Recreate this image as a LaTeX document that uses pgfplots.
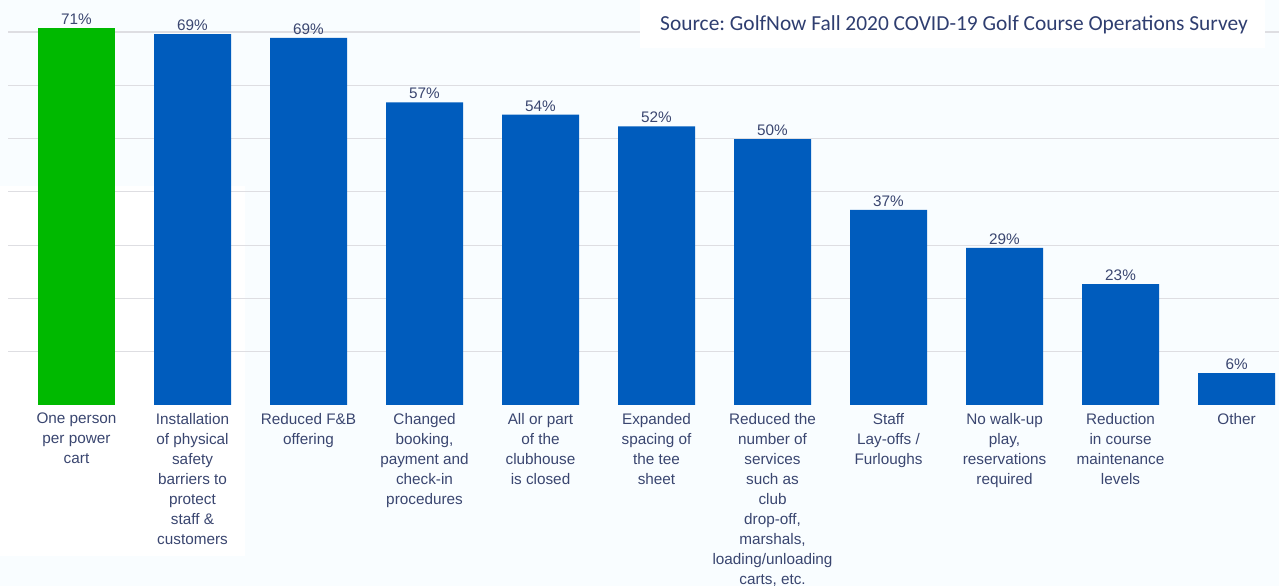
\documentclass[border=0pt]{standalone}
\usepackage{pgfplots}
\pgfplotsset{compat=1.18}
\usepackage{fontspec}
\setmainfont{Liberation Sans}
\newfontfamily\calibri{Carlito}
\definecolor{bargreen}{RGB}{0,185,0}
\definecolor{barblue}{RGB}{0,92,189}
\definecolor{labcol}{RGB}{58,70,112}
\definecolor{srccol}{RGB}{47,62,112}
\definecolor{gridcol}{RGB}{222,222,226}
\definecolor{bgcol}{RGB}{249,253,255}
\begin{document}
\frenchspacing
\begin{tikzpicture}[x=1bp,y=1bp]
\useasboundingbox (0,0) rectangle (1279,586);
\fill[bgcol] (0,0) rectangle (1279,586);
\fill[white] (0,30) rectangle (245,400);
\begin{axis}[
  at={(8bp,181bp)}, anchor=south west,
  scale only axis, width=1271bp, height=405bp,
  xmin=-0.5905, xmax=10.366, ymin=0, ymax=76,
  axis line style={draw=none},
  ytick={10,20,...,70}, ymajorgrids, grid style={gridcol, line width=1.2bp},
  yticklabels={},
  xtick={0,...,10},
  xticklabels={{One person\\per power\\cart},
    {Installation\\of physical\\safety\\barriers to\\protect\\staff \&\\customers},
    {Reduced F\&B\\offering},
    {Changed\\booking,\\payment and\\check-in\\procedures},
    {All or part\\of the\\clubhouse\\is closed},
    {Expanded\\spacing of\\the tee\\sheet},
    {Reduced the\\number of\\services\\such as\\club\\drop-off,\\marshals,\\loading/unloading\\carts, etc.},
    {Staff\\Lay-offs /\\Furloughs},
    {No walk-up\\play,\\reservations\\required},
    {Reduction\\in course\\maintenance\\levels},
    {Other}},
  major tick length=0pt,
  xticklabel style={align=center, font=\fontsize{15.3bp}{20bp}\selectfont, text=labcol, anchor=north, inner sep=0pt, yshift=-8bp},
  clip=false,
  ybar, bar width=77bp, bar shift=0pt,
  point meta=explicit,
  /pgf/number format/assume math mode=true,
  nodes near coords={\pgfmathprintnumber[fixed,precision=0,assume math mode=true]{\pgfplotspointmeta}\%},
  every node near coord/.append style={font=\fontsize{15.3bp}{18bp}\selectfont, text=labcol, inner sep=0pt, anchor=south, yshift=3bp},
]
\addplot[fill=bargreen, draw=none] coordinates {(0,70.8) [71]};
\addplot[fill=barblue, draw=none] coordinates {
 (1,69.6) [69] (2,68.9) [69] (3,56.8) [57] (4,54.5) [54] (5,52.3) [52]
 (6,49.9) [50] (7,36.6) [37] (8,29.5) [29] (9,22.7) [23] (10,6.0) [6]};
\end{axis}
\fill[white] (640,538) rectangle (1265,586);
\node[anchor=west, font=\calibri\fontsize{21.4bp}{25bp}\selectfont, text=srccol, inner sep=0pt] at (660,561) {Source:\ GolfNow Fall 2020 COVID-19 Golf Course Operations Survey};
\end{tikzpicture}
\end{document}
